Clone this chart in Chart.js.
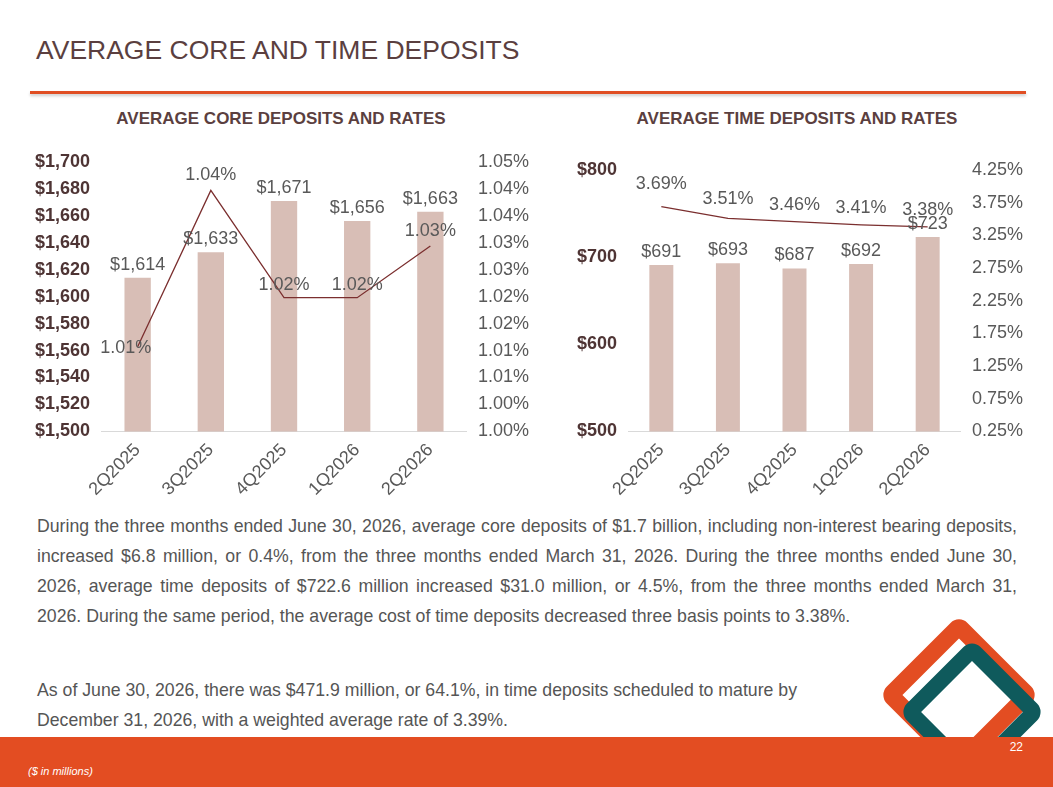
<!DOCTYPE html>
<html><head><meta charset="utf-8">
<script src="https://cdn.jsdelivr.net/npm/chart.js@4"></script>
<style>
body{margin:0;width:1053px;height:787px;position:relative;overflow:hidden;background:#fff;font-family:"Liberation Sans",Arial,sans-serif}
#title{position:absolute;left:36px;top:35px;font-size:26.5px;color:#5b3f3f}
#rule{position:absolute;left:30px;top:91px;width:996px;height:3px;background:#e04e23;box-shadow:0 2px 3px #ccc}
.ct{position:absolute;top:109px;font-size:17px;font-weight:bold;color:#5b3f3f;text-align:center}
.box{position:absolute;top:148px;height:352px}
.txt{position:absolute;left:37px;width:980px;font-size:17.7px;color:#555;line-height:30px;text-align:justify}
#band{position:absolute;left:0;top:737px;width:1053px;height:50px;background:#e34d22}
#pg{position:absolute;right:30px;top:740px;color:#fff;font-size:12px}
#note{position:absolute;left:28px;top:765px;color:#fff;font-size:11px;font-style:italic}
.sq{position:absolute;border-radius:12px;transform:rotate(45deg)}
</style></head><body>
<div id="title">AVERAGE CORE AND TIME DEPOSITS</div>
<div id="rule"></div>
<div class="ct" style="left:60px;width:442px">AVERAGE CORE DEPOSITS AND RATES</div>
<div class="ct" style="left:577px;width:440px">AVERAGE TIME DEPOSITS AND RATES</div>
<div class="box" style="left:32px;width:500px"><canvas id="c1"></canvas></div>
<div class="box" style="left:574px;width:452px"><canvas id="c2"></canvas></div>
<div class="txt" style="top:511px">During the three months ended June 30, 2026, average core deposits of $1.7 billion, including non-interest bearing deposits, increased $6.8 million, or 0.4%, from the three months ended March 31, 2026. During the three months ended June 30, 2026, average time deposits of $722.6 million increased $31.0 million, or 4.5%, from the three months ended March 31, 2026. During the same period, the average cost of time deposits decreased three basis points to 3.38%.</div>
<div class="txt" style="top:675px;width:830px;text-align:left">As of June 30, 2026, there was $471.9 million, or 64.1%, in time deposits scheduled to mature by<br>December 31, 2026, with a weighted average rate of 3.39%.</div>
<div class="sq" style="left:902px;top:638px;width:80px;height:80px;border:17px solid #e34d22"></div>
<div class="sq" style="left:920px;top:660px;width:72px;height:72px;border:16px solid #0f5a5c"></div>
<div id="band"></div>
<div id="pg">22</div>
<div id="note">($ in millions)</div>
<script>
const quarters = ["2Q2025","3Q2025","4Q2025","1Q2026","2Q2026"];
const coreDeposits = [1614,1633,1671,1656,1663];
const coreRates = [1.0157,1.0447,1.0248,1.0248,1.0344];
const coreRateLabels = ["1.01%","1.04%","1.02%","1.02%","1.03%"];
const coreRateTicks = ["1.00%","1.00%","1.01%","1.01%","1.02%","1.02%","1.03%","1.03%","1.04%","1.04%","1.05%"];
const timeDeposits = [691,693,687,692,723];
const timeRates = [3.69,3.51,3.46,3.41,3.38];
const timeRateLabels = ["3.69%","3.51%","3.46%","3.41%","3.38%"];

const barColor = "#d8beb6", lineColor = "#7b2f2f", txt = "#595959", dark = "#4e3434";

const labelPlugin = {
  id: "valLabels",
  afterDatasetsDraw(chart, args, opts) {
    const c = chart.ctx;
    c.save();
    c.font = "18px 'Liberation Sans', Arial";
    c.fillStyle = txt;
    c.textAlign = "center";
    c.textBaseline = "bottom";
    chart.getDatasetMeta(0).data.forEach((el, i) => {
      c.fillText("$" + chart.data.datasets[0].data[i].toLocaleString("en-US"), el.x, el.y - 4);
    });
    chart.getDatasetMeta(1).data.forEach((el, i) => {
      const o = opts.lineOffsets[i];
      c.fillText(opts.lineLabels[i], el.x + o[0], el.y + o[1]);
    });
    c.restore();
  }
};

function makeChart(id, bars, rates, rateLabels, y, y1, offsets, pad) {
  new Chart(document.getElementById(id), {
    type: "bar",
    data: {
      labels: quarters,
      datasets: [
        { type: "bar", data: bars, backgroundColor: barColor, barPercentage: 0.36, categoryPercentage: 1, yAxisID: "y", order: 2 },
        { type: "line", data: rates, borderColor: lineColor, borderWidth: 1.3, pointRadius: 0, tension: 0, yAxisID: "y1", order: 1 }
      ]
    },
    options: {
      maintainAspectRatio: false, animation: false,
      layout: { padding: pad },
      plugins: { legend: { display: false }, tooltip: { enabled: false }, valLabels: { lineLabels: rateLabels, lineOffsets: offsets } },
      scales: {
        x: { grid: { display: false }, border: { color: "#d9d9d9" },
             ticks: { color: txt, font: { size: 18 }, maxRotation: 45, minRotation: 45, padding: 0 } },
        y: Object.assign({ position: "left", grid: { display: false }, border: { display: false } }, y),
        y1: Object.assign({ position: "right", grid: { display: false }, border: { display: false } }, y1)
      }
    },
    plugins: [labelPlugin]
  });
}

makeChart("c1", coreDeposits, coreRates, coreRateLabels,
  { min: 1500, max: 1700, ticks: { stepSize: 20, color: dark, font: { size: 18, weight: "bold" }, callback: v => "$" + v.toLocaleString("en-US") } },
  { min: 1.0, max: 1.05, ticks: { stepSize: 0.005, color: txt, font: { size: 18 }, callback: (v, i) => coreRateTicks[i] } },
  [[-12, 10], [0, -6], [0, -4], [0, -4], [0, -6]],
  { top: 12, right: 0, left: 0 });

makeChart("c2", timeDeposits, timeRates, timeRateLabels,
  { min: 500, max: 800, ticks: { stepSize: 100, color: dark, font: { size: 18, weight: "bold" }, callback: v => "$" + v } },
  { min: 0.25, max: 4.25, ticks: { stepSize: 0.5, color: txt, font: { size: 18 }, callback: v => v.toFixed(2) + "%" } },
  [[0, -14], [0, -10], [0, -8], [0, -8], [0, -8]],
  { top: 22, right: 0, left: 0 });
</script>
</body></html>
